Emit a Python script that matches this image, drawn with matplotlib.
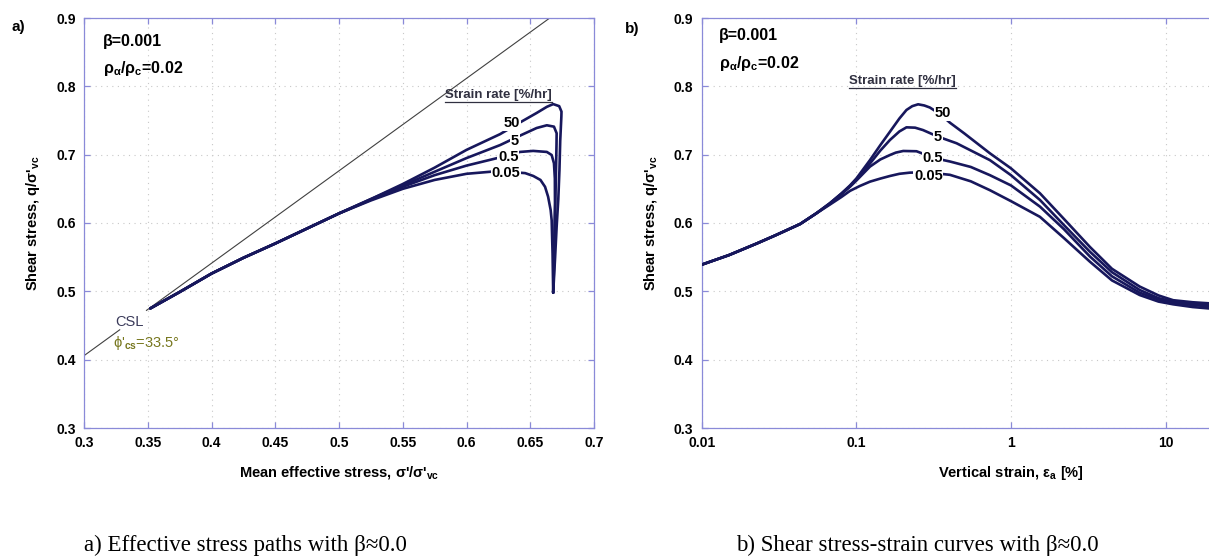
import numpy as np
import matplotlib
matplotlib.use("Agg")
import matplotlib.pyplot as plt
from matplotlib.lines import Line2D

plt.rcParams['font.family'] = ['Liberation Sans', 'DejaVu Sans']
plt.rcParams['mathtext.fontset'] = 'custom'
plt.rcParams['mathtext.rm'] = 'Liberation Sans:bold'
plt.rcParams['mathtext.it'] = 'Liberation Sans:bold'
plt.rcParams['mathtext.bf'] = 'Liberation Sans:bold'

# ---------------- data ----------------
rates = ["50", "5", "0.5", "0.05"]

# (a) effective stress paths  p'/sigma'vc , q/sigma'vc
bundle_p = [0.50, 0.475, 0.45, 0.425, 0.40, 0.375, 0.352]
bundle_q = [0.614, 0.592, 0.570, 0.549, 0.526, 0.499, 0.475]

p_50 = [0.668, 0.6695, 0.6707, 0.672, 0.6729, 0.6735, 0.6744, 0.6745, 0.6727, 0.668, 0.663, 0.655,
        0.6437, 0.6263, 0.600, 0.575, 0.55, 0.525] + bundle_p
q_50 = [0.498, 0.550, 0.5946, 0.635, 0.6776, 0.720, 0.7556, 0.763, 0.771, 0.774, 0.770, 0.761,
        0.749, 0.730, 0.707, 0.681, 0.657, 0.635] + bundle_q
p_5 = [0.668, 0.6686, 0.6694, 0.6702, 0.6706, 0.6707, 0.6686, 0.663, 0.655, 0.6433, 0.6263, 0.600,
       0.575, 0.55, 0.525] + bundle_p
q_5 = [0.498, 0.550, 0.605, 0.6776, 0.715, 0.7313, 0.741, 0.743, 0.739, 0.729, 0.714, 0.695,
       0.675, 0.655, 0.635] + bundle_q
p_05 = [0.668, 0.6686, 0.6694, 0.6693, 0.6686, 0.6668, 0.663, 0.6523, 0.642, 0.6263, 0.600, 0.575,
        0.55, 0.525] + bundle_p
q_05 = [0.498, 0.5336, 0.6288, 0.665, 0.6874, 0.6995, 0.704, 0.7055, 0.704, 0.696, 0.684, 0.670,
        0.653, 0.634] + bundle_q
p_005 = [0.668, 0.6675, 0.6668, 0.666, 0.664, 0.6616, 0.658, 0.6524, 0.646, 0.625, 0.600, 0.575,
         0.55, 0.525] + bundle_p
q_005 = [0.498, 0.5557, 0.604, 0.619, 0.6385, 0.653, 0.663, 0.6688, 0.673, 0.676, 0.672, 0.663,
         0.650, 0.633] + bundle_q

# label positions on paths (p, q)
lab_a_p = [0.6354, 0.638, 0.6328, 0.631]
lab_a_q = [0.746, 0.7205, 0.696, 0.6727]

# critical state line
phi_cs = 33.5
csl_p1 = [0.300, 0.328]
csl_p2 = [0.349, 0.666]

# (b) stress-strain curves  eps_a [%], q/sigma'vc
common_e = [0.01, 0.015, 0.0227, 0.03, 0.0433, 0.055]
common_s = [0.539, 0.553, 0.570, 0.582, 0.5985, 0.614]

e_50 = common_e + [0.0675, 0.08, 0.091, 0.1, 0.1225, 0.143, 0.165, 0.19, 0.211, 0.23, 0.251, 0.275, 0.299,
                   0.35, 0.403, 0.5, 0.731, 1.0, 1.54, 2.2, 3.24, 4.5, 6.8, 9.0, 11.2, 15.0, 19.0, 40.0]
s_50 = common_s + [0.629, 0.643, 0.655, 0.665, 0.692, 0.714, 0.7336, 0.753, 0.7654, 0.771, 0.7737, 0.772, 0.769,
                   0.759, 0.7468, 0.731, 0.702, 0.680, 0.6435, 0.606, 0.565, 0.533, 0.507, 0.494, 0.487, 0.484, 0.4825, 0.480]
e_5 = common_e + [0.0675, 0.08, 0.091, 0.1, 0.1225, 0.143, 0.165, 0.19, 0.211, 0.24, 0.27, 0.338,
                  0.445, 0.731, 1.0, 1.54, 2.2, 3.24, 4.5, 6.8, 9.0, 11.2, 15.0, 19.0, 40.0]
s_5 = common_s + [0.629, 0.643, 0.654, 0.664, 0.687, 0.706, 0.7215, 0.734, 0.740, 0.7395, 0.736, 0.7263,
                  0.7167, 0.692, 0.670, 0.6337, 0.597, 0.558, 0.528, 0.502, 0.490, 0.485, 0.482, 0.480, 0.478]
e_05 = common_e + [0.0675, 0.08, 0.091, 0.1, 0.1225, 0.143, 0.165, 0.18, 0.201, 0.245, 0.28, 0.311, 0.35,
                   0.403, 0.55, 0.731, 1.0, 1.54, 2.2, 3.24, 4.5, 6.8, 9.0, 11.2, 15.0, 19.0, 40.0]
s_05 = common_s + [0.628, 0.642, 0.653, 0.662, 0.6825, 0.693, 0.6995, 0.703, 0.7054, 0.705, 0.700, 0.6947, 0.693,
                   0.690, 0.682, 0.670, 0.655, 0.624, 0.591, 0.551, 0.522, 0.498, 0.488, 0.483, 0.480, 0.478, 0.476]
e_005 = common_e + [0.0675, 0.08, 0.091, 0.105, 0.1225, 0.143, 0.165, 0.19, 0.222, 0.26, 0.292, 0.35,
                    0.403, 0.55, 0.731, 1.0, 1.54, 2.2, 3.24, 4.5, 6.8, 9.0, 11.2, 15.0, 19.0, 40.0]
s_005 = common_s + [0.627, 0.638, 0.647, 0.654, 0.6605, 0.665, 0.6688, 0.672, 0.6737, 0.674, 0.673, 0.672,
                    0.6705, 0.661, 0.648, 0.632, 0.609, 0.578, 0.5434, 0.516, 0.4946, 0.485, 0.481, 0.477, 0.475, 0.473]

lab_b_e = [0.365, 0.338, 0.311, 0.292]
lab_b_q = [0.7606, 0.7263, 0.6947, 0.669]

xticks_a = [0.3, 0.35, 0.4, 0.45, 0.5, 0.55, 0.6, 0.65, 0.7]
xticklabels_a = ["0.3", "0.35", "0.4", "0.45", "0.5", "0.55", "0.6", "0.65", "0.7"]
yticks = [0.3, 0.4, 0.5, 0.6, 0.7, 0.8, 0.9]
yticklabels = ["0.3", "0.4", "0.5", "0.6", "0.7", "0.8", "0.9"]
xticks_b = [0.01, 0.1, 1, 10]
xticklabels_b = ["0.01", "0.1", "1", "10"]

# ---------------- style ----------------
W, H = 1209, 560
fig = plt.figure(figsize=(W / 100, H / 100), dpi=100)
spine_c = '#8a8ad8'
line_c = '#17175c'
lw = 1.9
tick_fs = 10
lab_fs = 10.5

ax1 = fig.add_axes([84 / W, 1 - 428 / H, 510 / W, 410 / H])
ax2 = fig.add_axes([701.7 / W, 1 - 428 / H, 618.5 / W, 410 / H])


def style(ax):
    for s in ax.spines.values():
        s.set_color(spine_c)
        s.set_linewidth(0.9)
    ax.tick_params(axis='both', which='both', direction='in', top=True, right=True,
                   color=spine_c, length=4, width=0.9, labelsize=tick_fs, pad=6)
    ax.tick_params(axis='both', which='minor', length=0)
    for lab in ax.get_xticklabels() + ax.get_yticklabels():
        lab.set_fontweight('bold')
    ax.grid(True, linestyle=(0, (1, 4)), color='#c8c8c8', linewidth=0.8)
    ax.set_axisbelow(True)


# ---- panel a ----
M = 6 * np.sin(np.radians(phi_cs)) / (3 - np.sin(np.radians(phi_cs)))
for seg in (csl_p1, csl_p2):
    ps = np.array(seg)
    ax1.plot(ps, M * ps, color='#404040', lw=0.8, zorder=2)

for p, q in zip([p_50, p_5, p_05, p_005], [q_50, q_5, q_05, q_005]):
    ax1.plot(p, q, color=line_c, lw=lw, solid_joinstyle='round', solid_capstyle='round', zorder=3)

for r, x, y in zip(rates, lab_a_p, lab_a_q):
    ax1.text(x, y, r, ha='center', va='center', fontsize=10.5, fontweight='bold', zorder=5,
             bbox=dict(boxstyle='square,pad=0.05', fc='white', ec='none'))

ax1.set_xlim(0.3, 0.7)
ax1.set_ylim(0.3, 0.9)
ax1.set_xticks(xticks_a)
ax1.set_xticklabels(xticklabels_a)
ax1.set_yticks(yticks)
ax1.set_yticklabels(yticklabels)
style(ax1)
ax1.set_xlabel(r"Mean effective stress, σ'/σ'$_{vc}$", fontsize=lab_fs, fontweight='bold', labelpad=10)
ax1.set_ylabel(r"Shear stress, q/σ'$_{vc}$", fontsize=lab_fs, fontweight='bold', labelpad=10)

ax1.text(0.315, 0.866, "β=0.001", fontsize=11.5, fontweight='bold', va='center')
ax1.text(0.315, 0.826, r"ρ$_{α}$/ρ$_{c}$=0.02", fontsize=11.5, fontweight='bold', va='center')
ax1.text(0.3243, 0.455, "CSL", fontsize=10.5, color='#3a3a5a', va='center')
ax1.text(0.323, 0.424, r"ϕ'$_{cs}$=33.5°", fontsize=10.5, color='#77771e', va='center')
t1 = ax1.text(0.625, 0.787, "Strain rate [%/hr]", fontsize=9.5, fontweight='bold', ha='center', va='center',
              color='#303040', zorder=5)

# ---- panel b ----
for e, s in zip([e_50, e_5, e_05, e_005], [s_50, s_5, s_05, s_005]):
    ax2.plot(e, s, color=line_c, lw=lw, solid_joinstyle='round', solid_capstyle='round', zorder=3)
for r, x, y in zip(rates, lab_b_e, lab_b_q):
    ax2.text(x, y, r, ha='center', va='center', fontsize=10.5, fontweight='bold', zorder=5,
             bbox=dict(boxstyle='square,pad=0.05', fc='white', ec='none'))

ax2.set_xscale('log')
ax2.set_xlim(0.01, 100)
ax2.set_ylim(0.3, 0.9)
ax2.set_xticks(xticks_b)
ax2.set_xticklabels(xticklabels_b)
ax2.set_yticks(yticks)
ax2.set_yticklabels(yticklabels)
ax2.minorticks_off()
style(ax2)
ax2.set_xlabel(r"Vertical strain, ε$_{a}$ [%]", fontsize=lab_fs, fontweight='bold', labelpad=10)
ax2.set_ylabel(r"Shear stress, q/σ'$_{vc}$", fontsize=lab_fs, fontweight='bold', labelpad=10)
ax2.text(0.013, 0.875, "β=0.001", fontsize=11.5, fontweight='bold', va='center')
ax2.text(0.013, 0.834, r"ρ$_{α}$/ρ$_{c}$=0.02", fontsize=11.5, fontweight='bold', va='center')
t2 = ax2.text(0.2, 0.808, "Strain rate [%/hr]", fontsize=9.5, fontweight='bold', ha='center', va='center',
              color='#303040', zorder=5)

# panel letters and captions
fig.text(12 / W, 1 - 27 / H, "a)", fontsize=11, fontweight='bold', va='center')
fig.text(625 / W, 1 - 29 / H, "b)", fontsize=11, fontweight='bold', va='center')
fig.text(84 / W, 1 - 545 / H, "a) Effective stress paths with β≈0.0", fontsize=16.5,
         family=['Liberation Serif', 'DejaVu Serif'], va='center')
fig.text(736 / W, 1 - 545 / H, "b) Shear stress-strain curves with β≈0.0", fontsize=16.5,
         family=['Liberation Serif', 'DejaVu Serif'], va='center')

# underline the "Strain rate" headings
fig.canvas.draw()
r = fig.canvas.get_renderer()
for t in (t1, t2):
    bb = t.get_window_extent(renderer=r)
    y = bb.y0 - 1
    fig.add_artist(Line2D([bb.x0, bb.x1], [y, y], transform=None, color='#303040', lw=0.9))

fig.savefig("out.png", dpi=100)
